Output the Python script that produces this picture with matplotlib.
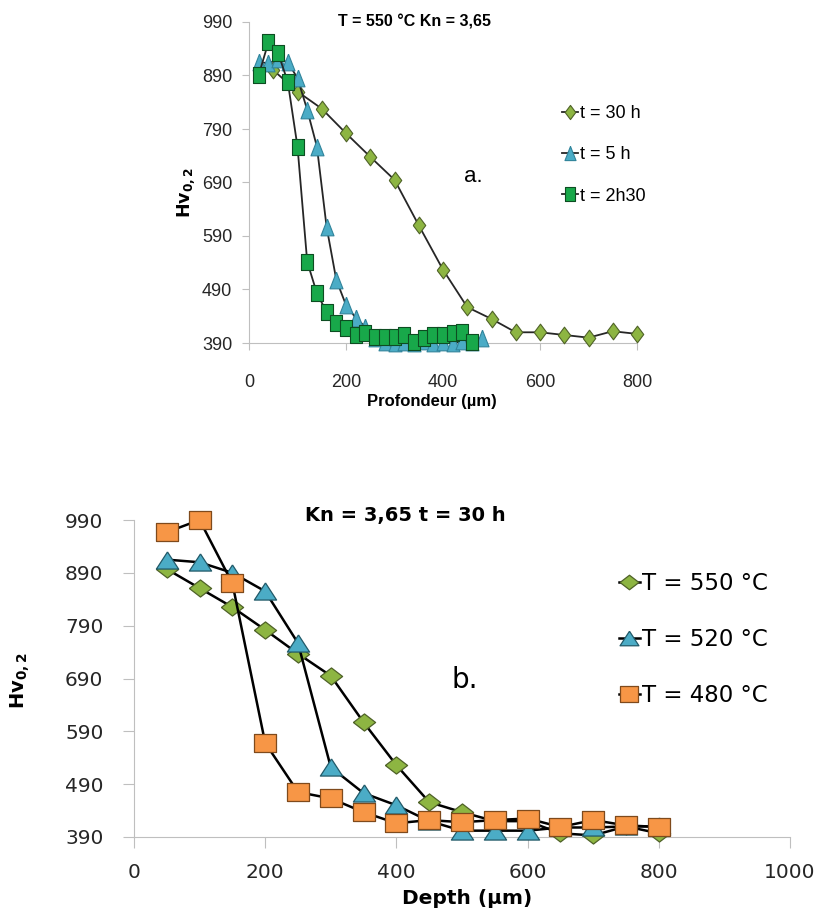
import matplotlib
matplotlib.use('Agg')
import matplotlib.pyplot as plt

# Panel a: T = 550 °C, Kn = 3,65, different times
depth_30h = [50, 100, 150, 200, 250, 300, 350, 400, 450, 500, 550, 600, 650, 700, 750, 800]
hv_30h = [900, 860, 828, 782, 738, 695, 610, 527, 457, 435, 410, 410, 405, 400, 412, 407]

depth_5h = [20, 40, 60, 80, 100, 120, 140, 160, 180, 200, 220, 240, 260, 280,
            300, 320, 340, 360, 380, 400, 420, 440, 460, 480]
hv_5h = [915, 913, 920, 915, 885, 826, 757, 607, 508, 461, 437, 420, 400, 392,
         390, 392, 390, 393, 390, 392, 390, 393, 392, 400]

depth_2h30 = [20, 40, 60, 80, 100, 120, 140, 160, 180, 200, 220, 240, 260, 280,
              300, 320, 340, 360, 380, 400, 420, 440, 460]
hv_2h30 = [891, 952, 932, 878, 757, 542, 483, 448, 427, 418, 405, 409, 401, 401,
           401, 405, 392, 399, 405, 405, 409, 411, 392]

# Panel b: Kn = 3,65, t = 30 h, different temperatures
depth_b = [50, 100, 150, 200, 250, 300, 350, 400, 450, 500, 550, 600, 650, 700, 750, 800]
hv_550 = [897, 861, 825, 782, 737, 695, 607, 526, 456, 437, 420, 420, 397, 393, 410, 397]
hv_520 = [915, 910, 890, 855, 757, 522, 473, 450, 420, 402, 402, 402, 408, 408, 410, 410]
hv_480 = [967, 990, 870, 568, 475, 463, 437, 416, 422, 418, 422, 425, 409, 422, 412, 409]

yticks = [390, 490, 590, 690, 790, 890, 990]

W, H = 825, 908
fig = plt.figure(figsize=(W / 100, H / 100), dpi=100)

font_a = 'Liberation Sans'
spine_col = '#bfbfbf'

# markers: panel a is stretched vertically, panel b horizontally
dia_a = [(-0.75, 0), (0, 1), (0.75, 0), (0, -1), (-0.75, 0)]
tri_a = [(0, 1), (-0.78, -1), (0.78, -1), (0, 1)]
sq_a = [(-0.75, -1), (0.75, -1), (0.75, 1), (-0.75, 1), (-0.75, -1)]
dia_b = [(-1, 0), (0, 0.77), (1, 0), (0, -0.77), (-1, 0)]
tri_b = [(0, 0.77), (-1, -0.77), (1, -0.77), (0, 0.77)]
sq_b = [(-1, -0.8), (1, -0.8), (1, 0.8), (-1, 0.8), (-1, -0.8)]


def style_axes(ax, ticklen):
    for s in ['top', 'right']:
        ax.spines[s].set_visible(False)
    for s in ['left', 'bottom']:
        ax.spines[s].set_color(spine_col)
    ax.tick_params(axis='both', colors=spine_col, length=ticklen, direction='out',
                   labelcolor='#262626')
    ax.set_yticks(yticks)
    ax.set_ylim(390, 990)


# ---- top chart ----
ax1 = fig.add_axes([249 / W, 1 - 343 / H, 388 / W, 321 / H])
style_axes(ax1, 5)
ax1.tick_params(axis='x', pad=17)
ax1.tick_params(axis='y', pad=7)
ax1.plot(depth_30h, hv_30h, '-', color='#262626', lw=1.3, marker=dia_a, ms=12,
         mfc='#8db542', mec='#4f6228', mew=0.8, label='t = 30 h', clip_on=False, zorder=3)
ax1.plot(depth_5h, hv_5h, '-', color='#262626', lw=1.3, marker=tri_a, ms=12,
         mfc='#4bacc6', mec='#31849b', mew=0.8, label='t = 5 h', clip_on=False, zorder=4)
ax1.plot(depth_2h30, hv_2h30, '-', color='#262626', lw=1.3, marker=sq_a, ms=12,
         mfc='#18a84a', mec='#0d4d22', mew=0.8, label='t = 2h30', clip_on=False, zorder=5)
ax1.set_xlim(0, 800)
ax1.set_xticks([0, 200, 400, 600, 800])
for lab in ax1.get_xticklabels() + ax1.get_yticklabels():
    lab.set_family(font_a)
    lab.set_fontsize(13)
ax1.set_xlabel('Profondeur (µm)', family=font_a, fontsize=12, fontweight='bold')
ax1.xaxis.set_label_coords(0.472, -0.16)
ax1.set_ylabel(r'$\mathbf{Hv_{0,2}}$', fontsize=12.5)
ax1.yaxis.set_label_coords(-0.135, 0.47)
ax1.text(415 / W, 1 - 22 / H, 'T = 550 °C Kn = 3,65', transform=fig.transFigure,
         ha='center', va='center', family=font_a, fontsize=11.5, fontweight='bold')
ax1.text(473 / W, 1 - 176 / H, 'a.', transform=fig.transFigure,
         ha='center', va='center', family=font_a, fontsize=16)
leg1 = ax1.legend(loc='upper left', bbox_to_anchor=(562 / W, 1 - 105 / H),
                  bbox_transform=fig.transFigure, frameon=False, borderpad=0,
                  borderaxespad=0, handlelength=0.9, handletextpad=0.1,
                  labelspacing=1.35, markerscale=0.85,
                  prop={'family': font_a, 'size': 13})

# ---- bottom chart ----
ax2 = fig.add_axes([134 / W, 1 - 837 / H, 656 / W, 317 / H])
style_axes(ax2, 8)
ax2.tick_params(axis='x', pad=11)
ax2.tick_params(axis='y', pad=14)
ax2.plot(depth_b, hv_550, '-', color='black', lw=1.8, marker=dia_b, ms=16,
         mfc='#8db542', mec='#4f6228', mew=0.9, label='T = 550 °C', clip_on=False, zorder=3)
ax2.plot(depth_b, hv_520, '-', color='black', lw=1.8, marker=tri_b, ms=16,
         mfc='#4bacc6', mec='#215968', mew=0.9, label='T = 520 °C', clip_on=False, zorder=4)
ax2.plot(depth_b, hv_480, '-', color='black', lw=1.8, marker=sq_b, ms=16,
         mfc='#f79646', mec='#7f4a1c', mew=0.9, label='T = 480 °C', clip_on=False, zorder=5)
ax2.set_xlim(0, 1000)
ax2.set_xticks([0, 200, 400, 600, 800, 1000])
for lab in ax2.get_xticklabels() + ax2.get_yticklabels():
    lab.set_fontsize(14.5)
ax2.set_xlabel('Depth (µm)', fontsize=14.5, fontweight='bold')
ax2.xaxis.set_label_coords(0.508, -0.165)
ax2.set_ylabel(r'$\mathbf{Hv_{0,2}}$', fontsize=14)
ax2.yaxis.set_label_coords(-0.155, 0.495)
ax2.text(405 / W, 1 - 516 / H, 'Kn = 3,65 t = 30 h', transform=fig.transFigure,
         ha='center', va='center', fontsize=14, fontweight='bold')
ax2.text(465 / W, 1 - 680 / H, 'b.', transform=fig.transFigure,
         ha='center', va='center', fontsize=20)
leg2 = ax2.legend(loc='upper left', bbox_to_anchor=(619 / W, 1 - 572 / H),
                  bbox_transform=fig.transFigure, frameon=False, borderpad=0,
                  borderaxespad=0, handlelength=0.9, handletextpad=0.1,
                  labelspacing=1.45, markerscale=0.85, prop={'size': 16.5})

fig.savefig('out.png', dpi=100, facecolor='white')
